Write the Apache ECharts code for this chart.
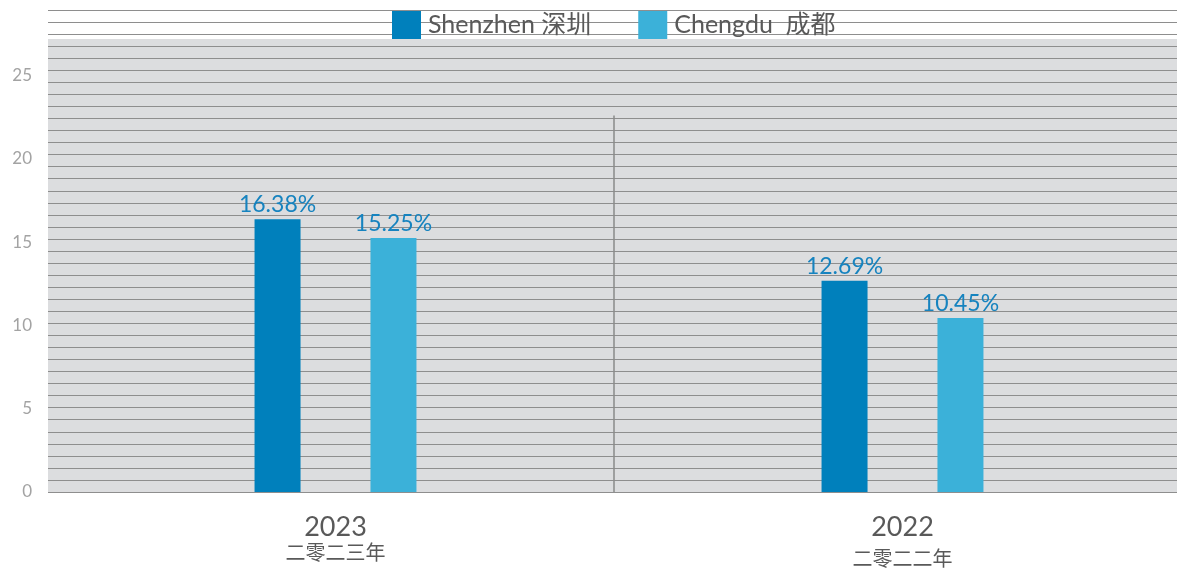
<!DOCTYPE html>
<html>
<head>
<meta charset="utf-8">
<script src="https://cdn.jsdelivr.net/npm/echarts@6/dist/echarts.min.js"></script>
<style>
  html, body { margin: 0; padding: 0; background: #fff; overflow: hidden; }
  /* 原图右侧被裁掉一截，画布略宽于窗口 */
  #chart { width: 1190px; height: 568px; }
</style>
</head>
<body>
<div id="chart"></div>
<script>
// 数据
const years = ['2023', '2022']
const yearsCn = ['二零二三年', '二零二二年']
const shenzhen = [16.38, 12.69]
const chengdu = [15.25, 10.45]
const seriesNames = ['Shenzhen 深圳', 'Chengdu  成都']
const yTicks = [0, 5, 10, 15, 20, 25]
// 两组之间的竖向分隔线（x 为两组分界处，y 为线的高度）
const dividerLine = [[1, 0], [1, 22.6]]

const FONT = 'Lato, "Noto Sans CJK SC", sans-serif'

const chart = echarts.init(document.getElementById('chart'))

const option = {
  animation: false,
  textStyle: { fontFamily: FONT },
  legend: {
    data: seriesNames,
    left: 392,
    top: 11,
    padding: 0,
    itemWidth: 29,
    itemHeight: 28,
    itemGap: 47,
    icon: 'rect',
    textStyle: { fontSize: 25, color: '#595959', fontFamily: FONT, padding: [0, 0, 0, 2] }
  },
  grid: [
    // 主图（柱子）
    { left: 52, right: 4, top: 39, bottom: 76, show: false },
    // 背景横条纹
    { left: 48, right: 0, top: 10, bottom: 76, show: false },
    // 灰色底 + 分隔线
    { left: 48, width: 1132, top: 39, bottom: 76, show: true, backgroundColor: '#dcdddf', borderWidth: 0, z: 0 }
  ],
  xAxis: [
    {
      type: 'category',
      gridIndex: 0,
      data: years,
      axisLine: { show: false },
      axisTick: { show: false },
      splitLine: { show: false },
      axisLabel: {
        margin: 21,
        formatter: function (value, idx) {
          return '{a|' + value + '}\n' + (idx === 0 ? '{b|' : '{c|') + yearsCn[idx] + '}'
        },
        rich: {
          a: { fontSize: 27, lineHeight: 28, color: '#595959', fontFamily: FONT },
          b: { fontSize: 20, lineHeight: 22, color: '#595959', fontFamily: '"Noto Sans CJK SC"' },
          c: { fontSize: 20, lineHeight: 34, color: '#595959', fontFamily: '"Noto Sans CJK SC"' }
        }
      }
    },
    { type: 'value', gridIndex: 1, min: 0, max: 1, show: false },
    { type: 'value', gridIndex: 2, min: 0, max: 2, show: false }
  ],
  yAxis: [
    {
      type: 'value',
      gridIndex: 0,
      min: yTicks[0],
      max: 27.2,
      interval: 5,
      axisLine: { show: false },
      axisTick: { show: false },
      splitLine: { show: false },
      axisLabel: {
        showMaxLabel: false,
        margin: 20,
        fontSize: 17,
        color: '#a3a3a3',
        fontFamily: FONT,
        formatter: function (v) { return yTicks.indexOf(v) >= 0 ? String(v) : '' }
      }
    },
    {
      type: 'value',
      gridIndex: 1,
      min: 0,
      max: 40,
      interval: 1,
      z: 1,
      axisLine: { show: false },
      axisTick: { show: false },
      axisLabel: { show: false },
      splitLine: { show: true, lineStyle: { color: '#8e8e8e', width: 1.2 } }
    },
    { type: 'value', gridIndex: 2, min: 0, max: 27.2, show: false }
  ],
  series: [
    {
      type: 'line',
      xAxisIndex: 2,
      yAxisIndex: 2,
      data: dividerLine,
      symbol: 'none',
      silent: true,
      z: 2,
      lineStyle: { color: '#8a8a8a', width: 1.5 }
    },
    {
      name: seriesNames[0],
      type: 'bar',
      xAxisIndex: 0,
      yAxisIndex: 0,
      data: shenzhen,
      barWidth: 46,
      barGap: '152%',
      z: 3,
      itemStyle: { color: '#0080bc' },
      label: {
        show: true,
        position: 'top',
        distance: 3,
        formatter: '{c}%',
        fontSize: 23,
        color: '#1683bf',
        fontFamily: FONT
      }
    },
    {
      name: seriesNames[1],
      type: 'bar',
      xAxisIndex: 0,
      yAxisIndex: 0,
      data: chengdu,
      barWidth: 46,
      z: 3,
      itemStyle: { color: '#3bb1d9' },
      label: {
        show: true,
        position: 'top',
        distance: 3,
        formatter: '{c}%',
        fontSize: 23,
        color: '#1683bf',
        fontFamily: FONT
      }
    }
  ]
}

chart.setOption(option)
</script>
</body>
</html>
